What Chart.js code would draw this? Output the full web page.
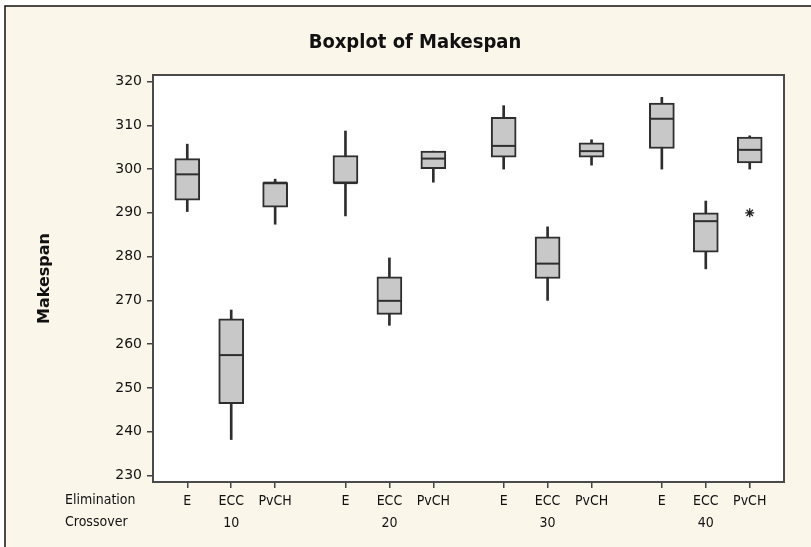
<!DOCTYPE html>
<html>
<head>
<meta charset="utf-8">
<script src="https://cdn.jsdelivr.net/npm/chart.js@4.4.1/dist/chart.umd.min.js"></script>
<style>
  html, body { margin: 0; padding: 0; background: #fff; }
  #wrap { width: 811px; height: 547px; position: relative; }
</style>
</head>
<body>
<div id="wrap"><canvas id="box" width="811" height="547"></canvas></div>
<script>
// Boxplot of Makespan
const crossover = ['10', '20', '30', '40'];
const elimination = ['E', 'ECC', 'PvCH'];

// order: 10-E, 10-ECC, 10-PvCH, 20-E, ... 40-PvCH
const whiskerHigh = [305.7, 267.8, 297.7, 308.7, 279.7, 304.1, 314.5, 286.8, 306.7, 316.4, 292.7, 307.6];
const q3          = [302.4, 265.8, 296.9, 303.1, 275.4, 304.1, 311.8, 284.5, 306.0, 315.1, 290.0, 307.3];
const median      = [298.8, 257.5, 296.9, 296.8, 269.9, 302.4, 305.3, 278.4, 304.1, 311.5, 288.1, 304.4];
const q1          = [292.9, 246.4, 291.3, 296.8, 266.8, 300.1, 302.7, 275.0, 302.7, 304.7, 281.0, 301.4];
const whiskerLow  = [290.3, 238.2, 287.4, 289.3, 264.3, 297.0, 300.0, 270.0, 300.9, 300.0, 277.2, 300.0];

// outliers: index of the box they belong to, and value
const outlierBox = [11];
const outlierValue = [290.0];

const yTicks = [230, 240, 250, 260, 270, 280, 290, 300, 310, 320];

// x positions: three boxes per crossover group, wider gap between groups
const GROUP_STEP = 3.6;
const xPos = [];
const xLabels = [];
crossover.forEach((c, g) => {
  elimination.forEach((e, i) => {
    xPos.push(g * GROUP_STEP + i);
    xLabels.push([e, i === 1 ? c : '']);
  });
});

const LABEL_FONT = '"DejaVu Sans Condensed", "DejaVu Sans", sans-serif';
Chart.defaults.font.family = '"DejaVu Sans", sans-serif';

const minitabFrame = {
  id: 'minitabFrame',
  beforeDraw(chart) {
    const { ctx, width, height, chartArea: a } = chart;
    ctx.save();
    ctx.fillStyle = '#fff';
    ctx.fillRect(0, 0, width, height);
    ctx.fillStyle = '#fbf6ea';
    ctx.fillRect(5, 6, width - 5, height - 6);
    ctx.strokeStyle = '#111';
    ctx.lineWidth = 1.5;
    ctx.beginPath();
    ctx.moveTo(5, height);
    ctx.lineTo(5, 6);
    ctx.lineTo(width, 6);
    ctx.stroke();
    ctx.fillStyle = '#fff';
    ctx.fillRect(a.left, a.top, a.right - a.left, a.bottom - a.top);
    ctx.restore();
  },
  afterDraw(chart) {
    const { ctx, chartArea: a } = chart;
    ctx.save();
    ctx.strokeStyle = '#4a4a4a';
    ctx.lineWidth = 2;
    ctx.strokeRect(a.left, a.top, a.right - a.left, a.bottom - a.top);

    ctx.fillStyle = '#111';
    ctx.textBaseline = 'middle';
    ctx.textAlign = 'center';
    ctx.font = 'bold 20px ' + LABEL_FONT;
    ctx.fillText('Boxplot of Makespan', 415, 43);

    ctx.textAlign = 'left';
    ctx.font = '14px ' + LABEL_FONT;
    ctx.fillText('Elimination', 65, 500);
    ctx.fillText('Crossover', 65, 522);
    ctx.restore();
  }
};

new Chart(document.getElementById('box'), {
  type: 'bar',
  data: {
    datasets: [
      {
        label: 'whisker',
        data: xPos.map((x, i) => ({ x, y: [whiskerLow[i], whiskerHigh[i]] })),
        backgroundColor: '#2e2e2e',
        barThickness: 2,
        grouped: false,
        order: 3
      },
      {
        label: 'box',
        data: xPos.map((x, i) => ({ x, y: [q1[i], q3[i]] })),
        backgroundColor: '#c8c8c8',
        borderColor: '#2e2e2e',
        borderWidth: 2,
        borderSkipped: false,
        barThickness: 25,
        grouped: false,
        order: 2
      },
      {
        type: 'scatter',
        label: 'median',
        data: xPos.map((x, i) => ({ x, y: median[i] })),
        pointStyle: 'line',
        radius: 12,
        borderColor: '#2e2e2e',
        borderWidth: 2,
        order: 1
      },
      {
        type: 'scatter',
        label: 'outlier',
        data: outlierBox.map((b, i) => ({ x: xPos[b], y: outlierValue[i] })),
        pointStyle: 'star',
        radius: 4.5,
        borderColor: '#222',
        borderWidth: 1.3,
        order: 0
      }
    ]
  },
  options: {
    responsive: false,
    animation: false,
    devicePixelRatio: 1,
    layout: { padding: { top: 75, right: 27, left: 0, bottom: 0 } },
    plugins: {
      legend: { display: false },
      tooltip: { enabled: false },
      title: { display: false }
    },
    scales: {
      x: {
        type: 'linear',
        offset: false,
        min: -0.78,
        max: (crossover.length - 1) * GROUP_STEP + elimination.length - 1 + 0.78,
        afterBuildTicks: s => { s.ticks = xPos.map(v => ({ value: v })); },
        afterFit: s => { s.height = 65; },
        grid: { offset: false, drawOnChartArea: false, drawTicks: true, tickLength: 6, color: '#444', lineWidth: 1.5 },
        border: { display: false },
        ticks: {
          autoSkip: false,
          maxRotation: 0,
          padding: 3,
          color: '#111',
          font: { family: LABEL_FONT, size: 14, lineHeight: 1.55 },
          callback: (v, i) => xLabels[i]
        }
      },
      y: {
        min: 228.5,
        max: 321.5,
        afterBuildTicks: s => { s.ticks = yTicks.map(v => ({ value: v })); },
        afterFit: s => { s.width = 153; },
        grid: { drawOnChartArea: false, drawTicks: true, tickLength: 6, color: '#444', lineWidth: 1.5 },
        border: { display: false },
        ticks: { padding: 5, color: '#111', font: { size: 14 } },
        title: {
          display: true,
          text: 'Makespan',
          color: '#111',
          font: { size: 16, weight: 'bold' },
          padding: { top: 35, bottom: 0 }
        }
      }
    }
  },
  plugins: [minitabFrame]
});
</script>
</body>
</html>
